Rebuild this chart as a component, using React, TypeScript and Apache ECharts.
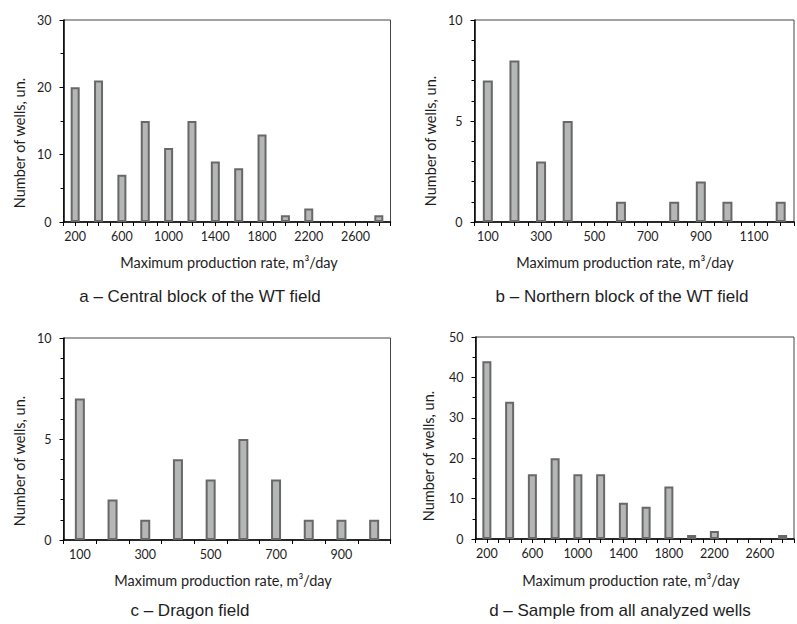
import React, { useEffect, useRef } from "react";
import * as echarts from "echarts";

// ---- data ----
const ratesA = [200, 400, 600, 800, 1000, 1200, 1400, 1600, 1800, 2000, 2200, 2400, 2600, 2800];
const wellsA = [20, 21, 7, 15, 11, 15, 9, 8, 13, 1, 2, 0, 0, 1];
const ratesB = [100, 200, 300, 400, 500, 600, 700, 800, 900, 1000, 1100, 1200];
const wellsB = [7, 8, 3, 5, 0, 1, 0, 1, 2, 1, 0, 1];
const ratesC = ["100", "200", "300", "400", "500", "600", "700", "800", "900", "1000"];
const wellsC = [7, 2, 1, 4, 3, 5, 3, 1, 1, 1];
const ratesD = [200, 400, 600, 800, 1000, 1200, 1400, 1600, 1800, 2000, 2200, 2400, 2600, 2800];
const wellsD = [44, 34, 16, 20, 16, 16, 9, 8, 13, 1, 2, 0, 0, 1];

const labelsAD = [200, 600, 1000, 1400, 1800, 2200, 2600];
const labelsB = [100, 300, 500, 700, 900, 1100];

const titles = [
  "a \u2013 Central block of the WT field",
  "b \u2013 Northern block of the WT field",
  "c \u2013 Dragon field",
  "d \u2013 Sample from all analyzed wells",
];
const xName = "Maximum production rate, m\u00b3/day";
const yName = "Number of wells, un.";

const AX_FONT = "Lato";
const TEXT = "#1e1e1e";

export default function App() {
  const ref = useRef<HTMLDivElement>(null);
  useEffect(() => {
    if (!ref.current) return;
    const chart = echarts.init(ref.current, null, { renderer: "svg" });

    const grids = [
      { left: 63.5, top: 20, width: 327, height: 202 },
      { left: 474.5, top: 20, width: 324, height: 202 },
      { left: 63.5, top: 338, width: 327, height: 202 },
      { left: 475.5, top: 337, width: 327, height: 202 },
    ].map((g) => ({ ...g, show: true, borderColor: "#444", borderWidth: 1, containLabel: false }));

    const axisLine = { show: true, lineStyle: { color: "#000", width: 1.5 } };
    const axisTick = { show: true, length: 4, lineStyle: { color: "#000", width: 1 } };
    const axisLabel = { color: TEXT, fontFamily: AX_FONT, fontSize: 12.5 };

    const valueX = (idx: number, min: number, max: number, interval: number, shown: number[]) => ({
      type: "value",
      gridIndex: idx,
      min,
      max,
      interval,
      axisLine,
      axisTick,
      splitLine: { show: false },
      axisLabel: {
        ...axisLabel,
        margin: 8,
        showMinLabel: true,
        showMaxLabel: true,
        formatter: (v: number) => (shown.includes(v) ? String(v) : ""),
      },
    });

    const yAx = (idx: number, max: number, interval: number, minorSplit: number) => ({
      type: "value",
      gridIndex: idx,
      min: 0,
      max,
      interval,
      axisLine,
      axisTick: { ...axisTick, length: 4 },
      minorTick: { show: true, splitNumber: minorSplit, length: 3, lineStyle: { color: "#000", width: 1 } },
      splitLine: { show: false },
      minorSplitLine: { show: false },
      axisLabel: { ...axisLabel, margin: 12 },
    });

    const barStyle = { color: "#b4b7b6", borderColor: "#686868", borderWidth: 2 };

    const pairs = (xs: number[], ys: number[]) =>
      xs.map((x, i) => [x, ys[i]]).filter((p) => p[1] > 0);

    const txt = (text: string, x: number, y: number, font: string, rotation = 0) => ({
      type: "text",
      x,
      y,
      rotation,
      style: { text, font, fill: TEXT, textAlign: "center", textVerticalAlign: "middle" },
    });

    const nameFont = `14.5px ${AX_FONT}`;
    const titleFont = `17px "Liberation Sans", Arial, sans-serif`;

    chart.setOption({
      animation: false,
      backgroundColor: "#fff",
      grid: grids,
      xAxis: [
        valueX(0, 100, 2900, 100, labelsAD),
        valueX(1, 50, 1250, 50, labelsB),
        {
          type: "category",
          gridIndex: 2,
          data: ratesC,
          axisLine,
          axisTick: { ...axisTick, interval: 0 },
          axisLabel: { ...axisLabel, margin: 8, interval: 1 },
        },
        valueX(3, 100, 2900, 100, labelsAD),
      ],
      yAxis: [yAx(0, 30, 10, 2), yAx(1, 10, 5, 5), yAx(2, 10, 5, 5), yAx(3, 50, 10, 2)],
      series: [
        { type: "bar", xAxisIndex: 0, yAxisIndex: 0, barWidth: 9, itemStyle: barStyle, data: pairs(ratesA, wellsA) },
        { type: "bar", xAxisIndex: 1, yAxisIndex: 1, barWidth: 10, itemStyle: barStyle, data: pairs(ratesB, wellsB) },
        { type: "bar", xAxisIndex: 2, yAxisIndex: 2, barWidth: 10, itemStyle: barStyle, data: wellsC },
        { type: "bar", xAxisIndex: 3, yAxisIndex: 3, barWidth: 9, itemStyle: barStyle, data: pairs(ratesD, wellsD) },
      ],
      graphic: [
        txt(yName, 19, 143, nameFont, Math.PI / 2),
        txt(yName, 430, 141, nameFont, Math.PI / 2),
        txt(yName, 19, 461, nameFont, Math.PI / 2),
        txt(yName, 428, 456, nameFont, Math.PI / 2),
        txt(xName, 229, 262, nameFont),
        txt(xName, 625, 262, nameFont),
        txt(xName, 223, 580, nameFont),
        txt(xName, 631, 580, nameFont),
        txt(titles[0], 200, 296, titleFont),
        txt(titles[1], 622, 296, titleFont),
        txt(titles[2], 190, 610, titleFont),
        txt(titles[3], 620, 610, titleFont),
      ],
    });
    return () => chart.dispose();
  }, []);
  return (
    <div
      ref={ref}
      style={{ position: "absolute", left: 0, top: 0, width: 797, height: 624, background: "#fff" }}
    />
  );
}
